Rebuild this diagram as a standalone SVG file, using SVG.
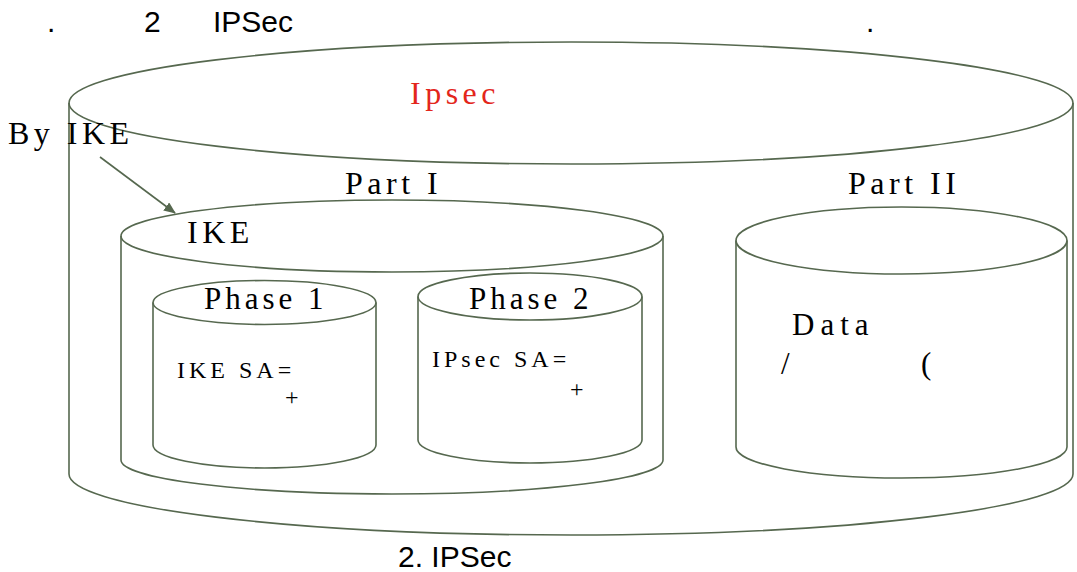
<svg xmlns="http://www.w3.org/2000/svg" width="1077" height="572" viewBox="0 0 1077 572">
<style>
.cyl{fill:none;stroke:#56684f;stroke-width:1.6}
.sf{font-family:"Liberation Serif","Times New Roman",serif;fill:#000}
.big{font-size:32px;letter-spacing:4.5px}
.mid{font-size:31px;letter-spacing:4px}
.sm{font-size:24px;letter-spacing:4px}
.ss{font-family:"Liberation Sans",Arial,sans-serif;font-size:30px;fill:#000}
</style>
<defs>
<marker id="arr" viewBox="0 0 12 10" refX="11" refY="5" markerWidth="12" markerHeight="10" markerUnits="userSpaceOnUse" orient="auto">
<path d="M0,0 L12,5 L0,10 Z" fill="#56684f"/>
</marker>
</defs>
<rect width="1077" height="572" fill="#fff"/>
<g id="title">
<text class="ss" x="47" y="32">.</text>
<text class="ss" x="144" y="32">2</text>
<text class="ss" x="213" y="32">IPSec</text>
<text class="ss" x="866" y="32">.</text>
</g>
<g id="outer">
<path class="cyl" d="M69,103 L69,474 A502,61 0 0 0 1073,474 L1073,103"/>
<ellipse class="cyl" cx="571" cy="103" rx="502" ry="61"/>
<text class="sf big" x="410" y="104" style="fill:#e3261b">Ipsec</text>
</g>
<g id="ike">
<path class="cyl" d="M121,236 L121,460 A271,34 0 0 0 663,460 L663,236"/>
<ellipse class="cyl" cx="392" cy="236" rx="271" ry="36"/>
<text class="sf big" x="345" y="194">Part I</text>
<text class="sf big" x="187" y="243">IKE</text>
</g>
<g id="phase1">
<path class="cyl" d="M153,302.5 L153,445 A111.5,23 0 0 0 376,445 L376,302.5"/>
<ellipse class="cyl" cx="264.5" cy="302.5" rx="111.5" ry="22"/>
<text class="sf mid" x="204" y="309">Phase 1</text>
<text class="sf sm" x="177" y="378">IKE SA=</text>
<text class="sf sm" x="285" y="405">+</text>
</g>
<g id="phase2">
<path class="cyl" d="M418,296.5 L418,440 A112,23 0 0 0 642,440 L642,296.5"/>
<ellipse class="cyl" cx="530" cy="296.5" rx="112" ry="23.5"/>
<text class="sf mid" x="469" y="309">Phase 2</text>
<text class="sf sm" x="432" y="367">IPsec SA=</text>
<text class="sf sm" x="570" y="397">+</text>
</g>
<g id="part2">
<path class="cyl" d="M736,240.5 L736,447 A165.5,31 0 0 0 1067,447 L1067,240.5"/>
<ellipse class="cyl" cx="901.5" cy="240.5" rx="165.5" ry="33.5"/>
<text class="sf big" x="848" y="194">Part II</text>
<text class="sf mid" x="792" y="335" style="letter-spacing:6px">Data</text>
<text class="sf mid" x="781" y="374">/</text>
<text class="sf mid" x="921" y="374">(</text>
</g>
<g id="byike">
<text class="sf big" x="8" y="144">By IKE</text>
</g>
<g id="connectors">
<line x1="100" y1="157" x2="175" y2="213" stroke="#56684f" stroke-width="1.6" marker-end="url(#arr)"/>
</g>
<g id="caption">
<text class="ss" x="398" y="567">2. IPSec</text>
</g>
</svg>
